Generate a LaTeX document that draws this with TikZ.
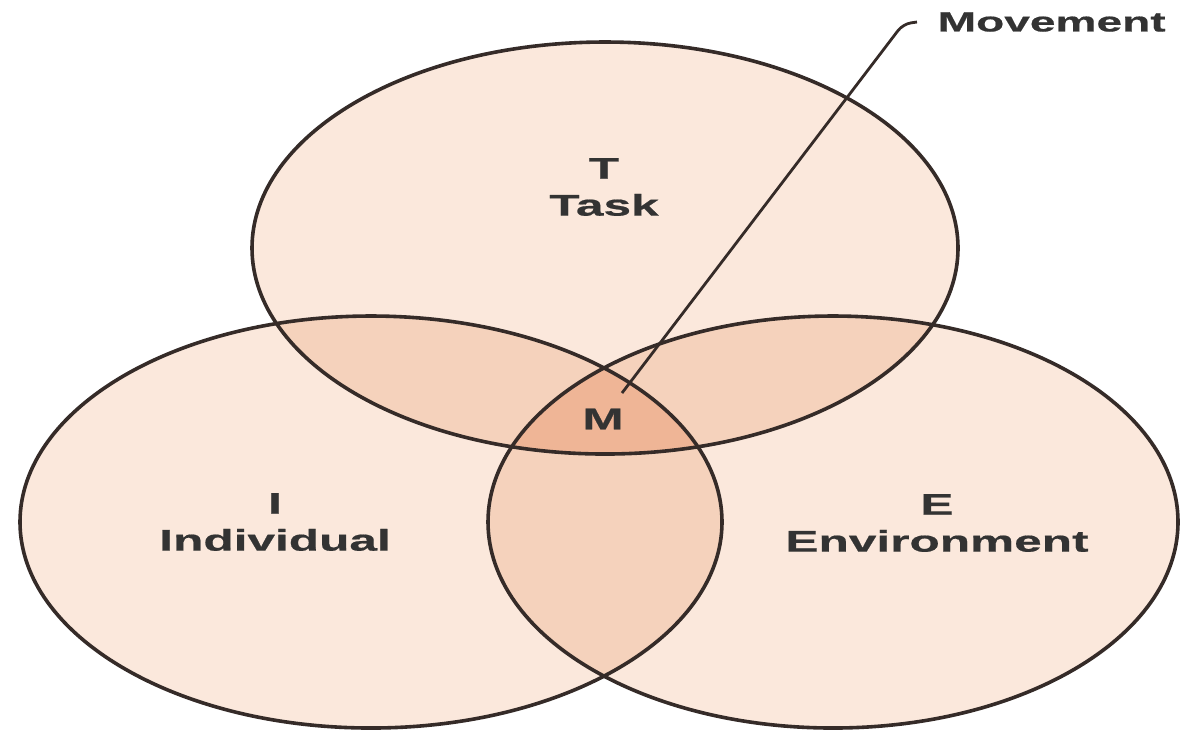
\documentclass[tikz,border=0pt]{standalone}
\usepackage{fontspec}
\setmainfont{Liberation Sans}
\newfontfamily\vennfont[FakeStretch=1.66,FakeBold=0.6]{Liberation Sans}
\usepackage{xcolor}
\usetikzlibrary{positioning}

\definecolor{oneset}{HTML}{FBE8DC}
\definecolor{twosets}{HTML}{F5D2BC}
\definecolor{threesets}{HTML}{EFB596}
\definecolor{rim}{HTML}{352B28}

\newcommand{\taskset}{(605,248) ellipse [x radius=353, y radius=206]}
\newcommand{\indset}{(371,522) ellipse [x radius=351, y radius=206]}
\newcommand{\envset}{(833,522) ellipse [x radius=345, y radius=206]}

\tikzset{
  setlabel/.style={font=\vennfont\bfseries\fontsize{8.5}{10.5}\selectfont, text=black!80, align=center, inner sep=0pt},
  setrim/.style={rim, line width=0.36mm}
}

\begin{document}
\begin{tikzpicture}[x=0.1mm, y=-0.1mm]
\useasboundingbox (0,0) rectangle (1180,734);

%plain sets
\fill[oneset] \taskset;
\fill[oneset] \indset;
\fill[oneset] \envset;

%overlaps
\begin{scope}
\clip \taskset;
\fill[twosets] \indset;
\fill[twosets] \envset;
\end{scope}
\begin{scope}
\clip \indset;
\fill[twosets] \envset;
\end{scope}
\begin{scope}
\clip \taskset;
\clip \indset;
\fill[threesets] \envset;
\end{scope}

%outlines
\draw[setrim] \taskset;
\draw[setrim] \indset;
\draw[setrim] \envset;

\node[setlabel] (task) at (604,187) {T\\Task};
\node[setlabel] (indiv) at (275,522) {I\\Individual};
\node[setlabel] (env) at (937,523) {E\\Environment};
\node[setlabel] (mlabel) at (603,419) {M};
\node[setlabel, anchor=west, font=\vennfont\bfseries\fontsize{7.9}{9}\selectfont] (move) at (937,22) {Movement};

%leader
\coordinate (mtip) at (622,393);
\coordinate (knee) at (903,24);
\draw[setrim, line width=0.28mm, rounded corners=0.8mm] (mtip) -- (knee) -- ([xshift=-2mm]move.west);

\end{tikzpicture}
\end{document}
